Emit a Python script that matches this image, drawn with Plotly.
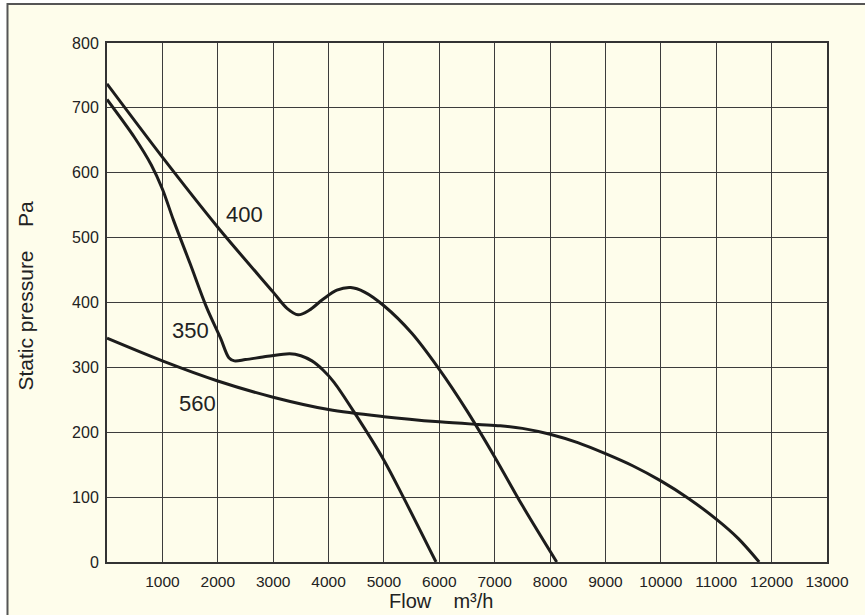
import plotly.graph_objects as go

# fan curves (flow m3/h, static pressure Pa)
flow_400 = [0, 1000, 2000, 3000, 3250, 3450, 3650, 3900, 4150, 4400, 4650, 5000, 5500, 6000, 6500, 7000, 7500, 8120]
pres_400 = [737, 624, 516, 416, 391, 381, 388, 405, 419, 423, 416, 395, 353, 297, 233, 162, 87, 0]

flow_350 = [0, 500, 800, 1000, 1200, 1500, 1800, 2050, 2200, 2300, 2500, 2900, 3300, 3500, 3700, 3900, 4100, 4500, 5000, 5350, 5940]
pres_350 = [713, 654, 612, 575, 527, 460, 392, 345, 315, 310, 312, 317, 321, 318, 310, 296, 277, 226, 157, 100, 0]

flow_560 = [0, 1000, 2000, 3000, 4000, 5000, 6000, 6700, 7100, 7500, 8000, 8500, 9000, 9500, 10000, 10500, 11000, 11400, 11775]
pres_560 = [345, 310, 279, 254, 235, 224, 216, 212, 210, 206, 197, 184, 167, 148, 125, 98, 66, 36, 0]

curve_labels = ["400", "350", "560"]
label_x = [2490, 1500, 1640]
label_y = [535, 357, 245]

x_ticks = list(range(0, 13001, 1000))
x_text = [""] + [str(v) for v in x_ticks[1:]]
y_ticks = list(range(0, 801, 100))

CREAM = "#fefdeb"
INK = "#1c1c1c"
FONT = "Liberation Sans, Arial, sans-serif"

fig = go.Figure()
for fx, py in [(flow_400, pres_400), (flow_350, pres_350), (flow_560, pres_560)]:
    fig.add_trace(go.Scatter(
        x=fx, y=py, mode="lines",
        line=dict(color=INK, width=3, shape="spline", smoothing=0.9),
        showlegend=False, hoverinfo="skip",
    ))

for t, lx, ly in zip(curve_labels, label_x, label_y):
    fig.add_annotation(x=lx, y=ly, text=t, showarrow=False,
                       font=dict(size=22, color="#222", family=FONT))

# axis titles
fig.add_annotation(xref="paper", yref="paper", x=0.464, y=-0.0755,
                   text="Flow\u00a0\u00a0\u00a0\u00a0m³/h", showarrow=False,
                   xanchor="center", yanchor="middle",
                   font=dict(size=20, color="#222", family=FONT))
fig.add_annotation(xref="paper", yref="paper", x=-0.1132, y=0.5125,
                   text="Static pressure\u00a0\u00a0\u00a0\u00a0Pa", showarrow=False,
                   textangle=-90, xanchor="center", yanchor="middle",
                   font=dict(size=21, color="#222", family=FONT))

# outer frame
fig.add_shape(type="rect", xref="paper", yref="paper",
              x0=-0.1382, y0=-1, x1=2, y1=1.0751,
              line=dict(color="#555", width=2), fillcolor=CREAM, layer="below")

fig.update_xaxes(
    range=[0, 13000], tickvals=x_ticks, ticktext=x_text,
    showgrid=True, gridcolor="#3c3c3c", gridwidth=1,
    showline=True, linecolor="#333", linewidth=2, mirror=True,
    ticks="outside", ticklen=4, tickcolor=CREAM,
    tickfont=dict(size=15.5, color="#222", family=FONT), zeroline=False,
)
fig.update_yaxes(
    range=[0, 800], tickvals=y_ticks,
    showgrid=True, gridcolor="#3c3c3c", gridwidth=1,
    showline=True, linecolor="#333", linewidth=2, mirror=True,
    ticks="outside", ticklen=3, tickcolor=CREAM,
    tickfont=dict(size=16, color="#222", family=FONT), zeroline=False,
)

fig.update_layout(
    width=865, height=615,
    margin=dict(l=107, r=38, t=43, b=53),
    paper_bgcolor="white", plot_bgcolor=CREAM,
)

fig.write_html("out.html", config={"displayModeBar": False},
               post_script="document.body.style.margin='0';")
